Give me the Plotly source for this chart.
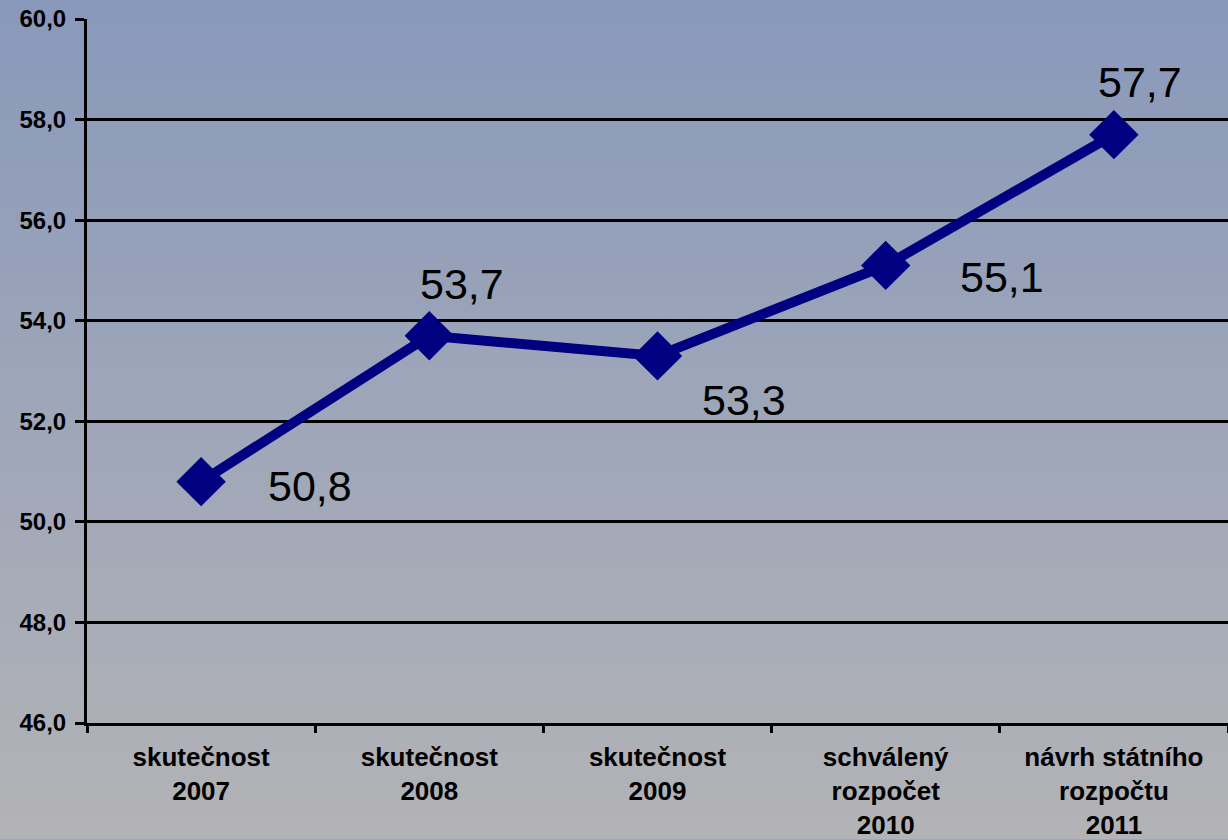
import plotly.graph_objects as go

categories = ["skutečnost<br>2007", "skutečnost<br>2008", "skutečnost<br>2009",
              "schválený<br>rozpočet<br>2010", "návrh státního<br>rozpočtu<br>2011"]
values = [50.8, 53.7, 53.3, 55.1, 57.7]
value_labels = ["50,8", "53,7", "53,3", "55,1", "57,7"]
y_ticks = [46, 48, 50, 52, 54, 56, 58, 60]

# label offsets (pixels) — styling
label_shifts = [(109, -4), (33, 52), (86, -44), (116, -12), (26, 53)]

W, H = 1228, 840
L, R, T, B = 87, 0, 19, 115
pw, ph = W - L - R, H - T - B

top_rgb = (137, 153, 187)
bot_rgb = (179, 179, 182)

shapes = []
n = 80
y0p = -B / ph
y1p = 1 + T / ph
for i in range(n):
    f = i / (n - 1)
    c = tuple(round(top_rgb[k] * (1 - f) + bot_rgb[k] * f) for k in range(3))
    ya = y1p - (y1p - y0p) * i / n
    yb = y1p - (y1p - y0p) * (i + 1) / n
    shapes.append(dict(type="rect", xref="paper", yref="paper",
                       x0=-L / pw - 0.01, x1=1.01, y0=yb - 0.002, y1=ya + 0.002,
                       fillcolor="rgb(%d,%d,%d)" % c, line=dict(width=0), layer="below"))

fig = go.Figure()
fig.add_trace(go.Scatter(
    x=categories, y=values, mode="lines+markers",
    line=dict(color="#000080", width=10),
    marker=dict(symbol="diamond", size=38, color="#000080"),
    hoverinfo="skip", showlegend=False))

annotations = []
for c, v, t, (dx, dy) in zip(categories, values, value_labels, label_shifts):
    annotations.append(dict(x=c, y=v, xref="x", yref="y", text=t, showarrow=False,
                            xshift=dx, yshift=dy,
                            font=dict(family="Liberation Sans, Arial", size=43, color="black")))

fig.update_layout(
    width=W, height=H,
    margin=dict(l=L, r=R, t=T, b=B),
    paper_bgcolor="rgb(160,168,185)",
    plot_bgcolor="rgba(0,0,0,0)",
    separators=", ",
    shapes=shapes,
    annotations=annotations,
    xaxis=dict(range=[-0.5, 4.5], tickson="boundaries", ticks="outside", ticklen=7,
               tickwidth=3, tickcolor="black", showline=True, linecolor="black",
               linewidth=3, showgrid=False, zeroline=False, ticklabelstandoff=9,
               tickfont=dict(family="Liberation Sans, Arial", size=26, color="black",
                             weight="bold")),
    yaxis=dict(range=[46, 60], tickvals=y_ticks, tickformat=".1f", ticks="outside",
               ticklen=9, tickwidth=3, tickcolor="black", showline=True,
               linecolor="black", linewidth=3, showgrid=True, gridcolor="black",
               gridwidth=2.5, zeroline=False, ticklabelstandoff=4,
               tickfont=dict(family="Liberation Sans, Arial", size=24, color="black",
                             weight="bold")),
)

fig.write_html("out.html", config={"displayModeBar": False},
               post_script=("document.documentElement.style.margin='0';"
                            "document.documentElement.style.padding='0';"
                            "document.documentElement.style.overflow='hidden';"
                            "document.body.style.margin='0';"
                            "document.body.style.padding='0';"
                            "document.body.style.overflow='hidden';"
                            "window.scrollTo(0,0);"))
